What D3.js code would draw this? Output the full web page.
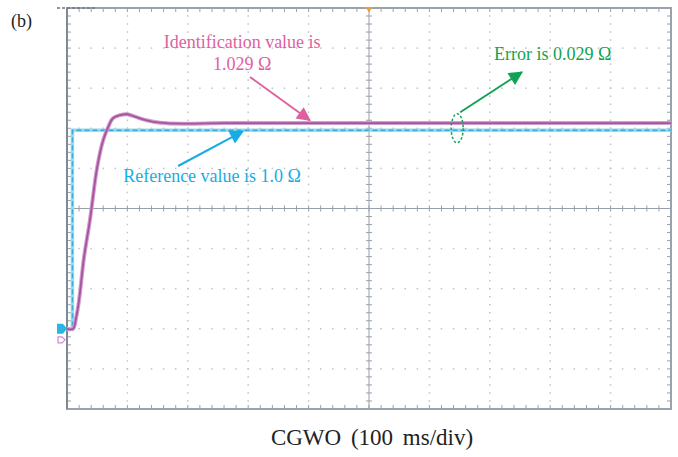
<!DOCTYPE html>
<html>
<head>
<meta charset="utf-8">
<script src="https://cdn.jsdelivr.net/npm/d3@7"></script>
<style>
  body { margin: 0; background: #fff; }
  svg { display: block; }
  text { font-family: "Liberation Serif", "Times New Roman", serif; }
</style>
</head>
<body>
<div id="chart"></div>
<script>
// time axis: 100 ms/div, 10 divs; value axis: 0.2 per div, 10 divs
const timeDomain = [0, 1000];
const valueDomain = [-0.4, 1.6];

// reference (cyan) trace
const refTime = [0, 9, 9, 1000];
const refValue = [0, 0, 0.99, 0.99];

// identification (magenta) trace
const idTime = [0, 10, 15, 20, 28, 38, 50, 60, 68, 76, 88, 99, 109, 132, 154, 192, 260, 400, 600, 800, 1000];
const idValue = [0, 0, 0.054, 0.144, 0.353, 0.543, 0.807, 0.942, 1.005, 1.05, 1.066, 1.07, 1.062, 1.04, 1.028, 1.023, 1.026, 1.026, 1.026, 1.026, 1.026];

const labels = {
  panel: '(b)',
  xTitle: 'CGWO (100 ms/div)',
  ident: ['Identification value is', '1.029 Ω'],
  ref: 'Reference value is 1.0 Ω',
  err: 'Error is 0.029 Ω'
};

function createChart(container, width = 678, height = 457) {
  const margin = { top: 8, right: 7, bottom: 48, left: 67 };
  const innerWidth = width - margin.left - margin.right;
  const innerHeight = height - margin.top - margin.bottom;

  const root = d3.select(container)
    .append('svg')
    .attr('width', width)
    .attr('height', height);

  const defs = root.append('defs');
  [['ahPink', '#e0609f'], ['ahCyan', '#16ade3'], ['ahGreen', '#10a356']].forEach(([id, c]) => {
    defs.append('marker')
      .attr('id', id)
      .attr('viewBox', '0 0 10 10')
      .attr('refX', 9).attr('refY', 5)
      .attr('markerWidth', 8).attr('markerHeight', 7)
      .attr('markerUnits', 'strokeWidth')
      .attr('orient', 'auto')
      .append('path')
      .attr('d', 'M0,0 L10,5 L0,10 Z')
      .attr('fill', c);
  });

  root.append('text')
    .attr('x', 11).attr('y', 27)
    .attr('font-size', 18)
    .attr('fill', '#222')
    .text(labels.panel);

  const svg = root.append('g')
    .attr('transform', `translate(${margin.left}, ${margin.top})`);

  const x = d3.scaleLinear().domain(timeDomain).range([0, innerWidth]);
  const y = d3.scaleLinear().domain(valueDomain).range([innerHeight, 0]);

  drawGrid(svg, innerWidth, innerHeight);
  drawTraces(svg, x, y);
  drawMarkers(svg, x, y, innerWidth);
  drawNotes(svg, x, y);

  root.append('text')
    .attr('x', margin.left + innerWidth / 2 + 3)
    .attr('y', 445)
    .attr('text-anchor', 'middle')
    .attr('font-size', 23)
    .attr('word-spacing', 4)
    .attr('fill', '#222')
    .text(labels.xTitle);
}

function drawGrid(svg, w, h) {
  const nDiv = 10, nSub = 5;
  const gx = d3.scaleLinear().domain([0, nDiv]).range([0, w]);
  const gy = d3.scaleLinear().domain([0, nDiv]).range([0, h]);
  const subs = d3.range(0, nDiv * nSub + 1).map(d => d / nSub);

  // dotted division lines
  const dots = svg.append('g').attr('fill', '#bcc4cc');
  d3.range(1, nDiv).filter(i => i !== 5).forEach(i => {
    subs.forEach(s => {
      dots.append('rect').attr('x', gx(i) - 0.75).attr('y', gy(s) - 0.75).attr('width', 1.5).attr('height', 1.5);
      dots.append('rect').attr('x', gx(s) - 0.75).attr('y', gy(i) - 0.75).attr('width', 1.5).attr('height', 1.5);
    });
  });

  // centre cross with minor ticks
  const cross = svg.append('g').attr('stroke', '#98a0aa').attr('stroke-width', 1);
  cross.append('line').attr('x1', 0).attr('x2', w).attr('y1', gy(5)).attr('y2', gy(5));
  cross.append('line').attr('x1', gx(5)).attr('x2', gx(5)).attr('y1', 0).attr('y2', h);
  subs.forEach(s => {
    cross.append('line').attr('x1', gx(s)).attr('x2', gx(s)).attr('y1', gy(5) - 3).attr('y2', gy(5) + 3);
    cross.append('line').attr('x1', gx(5) - 3).attr('x2', gx(5) + 3).attr('y1', gy(s)).attr('y2', gy(s));
    // border ticks
    cross.append('line').attr('x1', 0).attr('x2', 4).attr('y1', gy(s)).attr('y2', gy(s));
    cross.append('line').attr('x1', w - 4).attr('x2', w).attr('y1', gy(s)).attr('y2', gy(s));
    cross.append('line').attr('x1', gx(s)).attr('x2', gx(s)).attr('y1', 0).attr('y2', 4);
    cross.append('line').attr('x1', gx(s)).attr('x2', gx(s)).attr('y1', h - 4).attr('y2', h);
  });

  svg.append('rect')
    .attr('x', 0).attr('y', 0)
    .attr('width', w).attr('height', h)
    .attr('fill', 'none')
    .attr('stroke', '#9aa3ad')
    .attr('stroke-width', 2);
  svg.append('line')
    .attr('x1', 0).attr('x2', 0).attr('y1', 0).attr('y2', h)
    .attr('stroke', '#7f8993').attr('stroke-width', 2);
  svg.append('line')
    .attr('x1', -10).attr('x2', 30).attr('y1', 0).attr('y2', 0)
    .attr('stroke', '#707a84').attr('stroke-width', 1.5)
    .attr('stroke-dasharray', '3,2');
}

function drawTraces(svg, x, y) {
  const refData = refTime.map((t, i) => [t, refValue[i]]);
  const idData = idTime.map((t, i) => [t, idValue[i]]);

  const refLine = d3.line().x(d => x(d[0])).y(d => y(d[1]));
  svg.append('path')
    .datum(refData)
    .attr('fill', 'none')
    .attr('stroke', '#9ad8ef')
    .attr('stroke-width', 3.5)
    .attr('d', refLine);
  svg.append('path')
    .datum(refData)
    .attr('fill', 'none')
    .attr('stroke', '#2fb0dc')
    .attr('stroke-width', 1.5)
    .attr('stroke-dasharray', '5,3')
    .attr('d', refLine);

  const idLine = d3.line().x(d => x(d[0])).y(d => y(d[1])).curve(d3.curveCatmullRom.alpha(0.5));
  svg.append('path')
    .datum(idData)
    .attr('fill', 'none')
    .attr('stroke', '#cf9fce')
    .attr('stroke-width', 4)
    .attr('d', idLine);
  svg.append('path')
    .datum(idData)
    .attr('fill', 'none')
    .attr('stroke', '#a8529f')
    .attr('stroke-width', 1.8)
    .attr('d', idLine);
}

function drawMarkers(svg, x, y, w) {
  // channel ground markers at the left edge
  const y0 = y(0);
  svg.append('path')
    .attr('d', `M-10,${y0 - 5} L-4,${y0 - 5} L0,${y0} L-4,${y0 + 5} L-10,${y0 + 5} Z`)
    .attr('fill', '#2ab4e8');
  svg.append('path')
    .attr('d', `M-9,${y0 + 8} L-5,${y0 + 8} L-2,${y0 + 11} L-5,${y0 + 14} L-9,${y0 + 14} Z`)
    .attr('fill', 'none')
    .attr('stroke', '#d08ad0')
    .attr('stroke-width', 1.2);
  // trigger position marker at the top
  svg.append('path')
    .attr('d', `M${w / 2 - 4},-1 L${w / 2 + 4},-1 L${w / 2},4 Z`)
    .attr('fill', '#f0a030');
}

function drawNotes(svg, x, y) {
  const notes = svg.append('g').attr('font-size', 18);

  // identification value
  notes.append('text')
    .attr('x', x(290)).attr('y', y(1.40))
    .attr('text-anchor', 'middle')
    .attr('fill', '#e0609f')
    .selectAll('tspan')
    .data(labels.ident)
    .enter()
    .append('tspan')
    .attr('x', x(290))
    .attr('dy', (d, i) => i === 0 ? 0 : 22)
    .text(d => d);
  notes.append('line')
    .attr('x1', x(303)).attr('y1', y(1.256))
    .attr('x2', x(402)).attr('y2', y(1.04))
    .attr('stroke', '#e0609f').attr('stroke-width', 2)
    .attr('marker-end', 'url(#ahPink)');

  // reference value
  notes.append('text')
    .attr('x', x(93)).attr('y', y(0.732))
    .attr('fill', '#16ade3')
    .text(labels.ref);
  notes.append('line')
    .attr('x1', x(184)).attr('y1', y(0.812))
    .attr('x2', x(291)).attr('y2', y(0.985))
    .attr('stroke', '#16ade3').attr('stroke-width', 2)
    .attr('marker-end', 'url(#ahCyan)');

  // error
  notes.append('text')
    .attr('x', x(707)).attr('y', y(1.34))
    .attr('fill', '#10a356')
    .text(labels.err);
  notes.append('line')
    .attr('x1', x(651)).attr('y1', y(1.08))
    .attr('x2', x(753)).attr('y2', y(1.28))
    .attr('stroke', '#10a356').attr('stroke-width', 2)
    .attr('marker-end', 'url(#ahGreen)');
  notes.append('ellipse')
    .attr('cx', x(646)).attr('cy', y(1.0))
    .attr('rx', 6).attr('ry', 14.5)
    .attr('fill', 'none')
    .attr('stroke', '#10a356').attr('stroke-width', 1.5)
    .attr('stroke-dasharray', '2.5,2');
}

createChart(document.getElementById('chart'));
</script>
</body>
</html>
